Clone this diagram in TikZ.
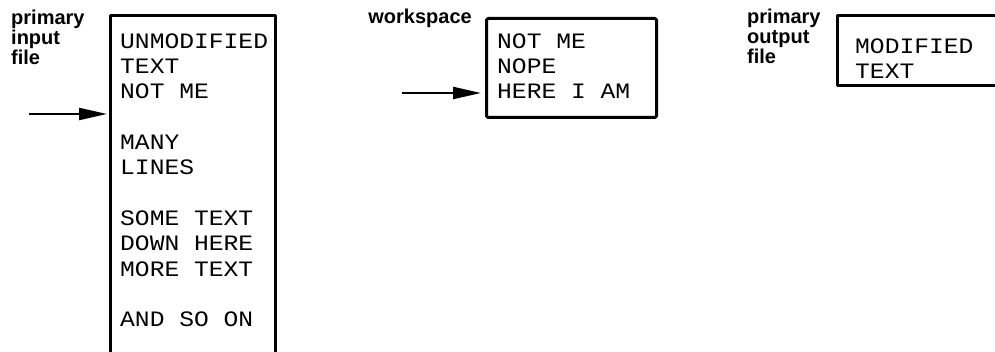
\documentclass[tikz,border=0pt]{standalone}
\usepackage{fontspec}
\setmainfont{Liberation Sans}
\newfontfamily\boxmono[FakeStretch=1.12]{Liberation Mono}
\usetikzlibrary{arrows.meta}
\tikzset{
  frame/.style={draw=black, line width=3pt, line join=round},
  boxtext/.style={anchor=north west, inner sep=0pt, align=left, font=\fontsize{22}{25.3}\selectfont\boxmono},
  lbl/.style={inner sep=0pt, align=left, font=\fontsize{20}{20.3}\selectfont\bfseries},
  arr/.style={draw=black, line width=2.2pt, -{Triangle[length=28pt,width=12pt]}}
}
\begin{document}
\begin{tikzpicture}[x=1pt,y=-1pt]
\useasboundingbox (0,0) rectangle (995,352);
% labels
\node[lbl, anchor=north west] (lin) at (11,9.5) {primary\\input\\file};
\node[lbl, anchor=north east] (lws) at (472,8.5) {workspace};
\node[lbl, anchor=north west] (lout) at (747,8.5) {primary\\output\\file};
% box 1 (open at the bottom)
\coordinate (b1bl) at (110,356);
\coordinate (b1tr) at (275,16);
\coordinate (b1br) at (275,356);
\draw[frame] (b1bl) |- (b1tr) -- (b1br);
\node[boxtext] (t1) at (120,33.4) {UNMODIFIED\\TEXT\\NOT ME\\{}\\MANY\\LINES\\{}\\SOME TEXT\\DOWN HERE\\MORE TEXT\\{}\\AND SO ON};
% box 2 workspace
\node[frame, anchor=north west, minimum width=170pt, minimum height=99pt, inner sep=0pt, rounded corners=1.5pt] (ws) at (485,17) {};
\node[boxtext] (t2) at (497,33.4) {NOT ME\\NOPE\\HERE I AM};
% box 3 (open at the right)
\coordinate (b3tr) at (1000,16);
\coordinate (b3bl) at (837,86);
\coordinate (b3br) at (1000,86);
\draw[frame] (b3tr) -| (b3bl) -- (b3br);
\node[boxtext] (t3) at (855,38.4) {MODIFIED\\TEXT};
% arrows
\coordinate (a1s) at (29,114);
\coordinate (a1e) at (107,114);
\draw[arr] (a1s) -- (a1e);
\coordinate (a2s) at (402,93);
\draw[arr] (a2s) -- ([xshift=-4pt]a2s -| ws.west);
\end{tikzpicture}
\end{document}
